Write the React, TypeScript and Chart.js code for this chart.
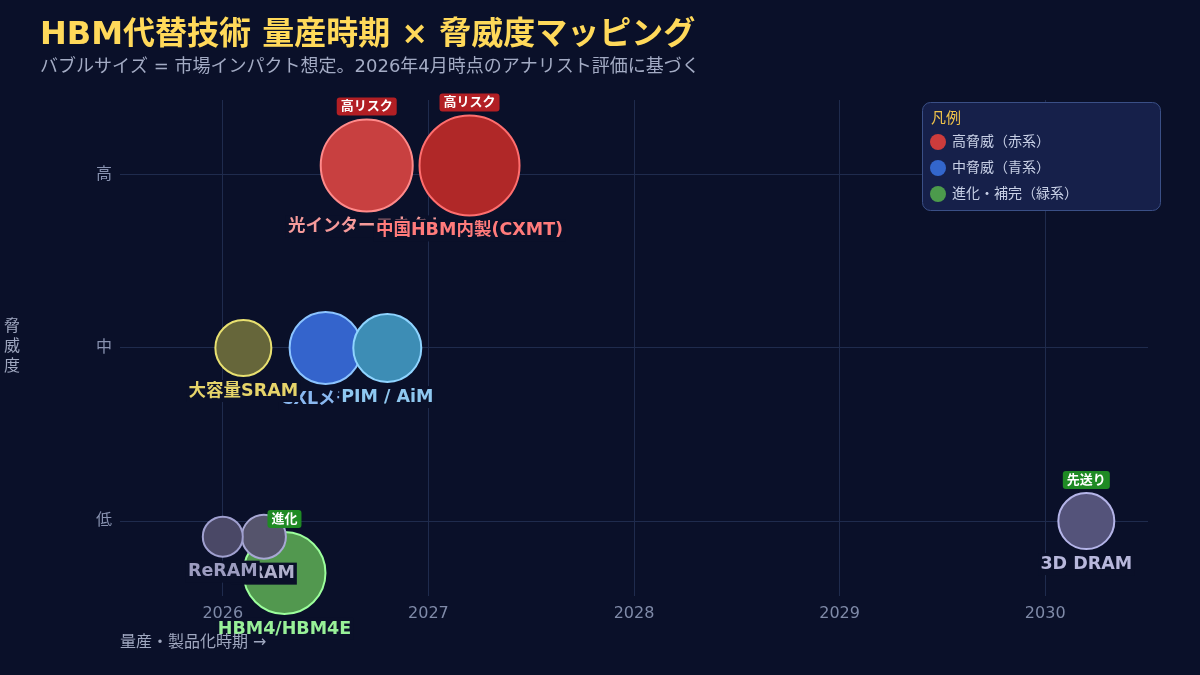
import React, { useEffect, useRef } from 'react';
import { Chart, registerables } from 'chart.js';

Chart.register(...registerables);

// ---- data ----
const techNames = ['光インターコネクト', '中国HBM内製(CXMT)', 'CXLメモリ', 'PIM / AiM', '大容量SRAM', 'HBM4/HBM4E', 'MRAM', 'ReRAM', '3D DRAM'];
const massProductionYear = [2026.7, 2027.2, 2026.5, 2026.8, 2026.1, 2026.3, 2026.2, 2026.0, 2030.2];
const threatLevel = [3.055, 3.055, 2.0, 2.0, 2.0, 0.7, 0.91, 0.91, 1.0];
const marketImpact = [46, 50, 36, 34, 28, 41, 22, 20, 28];
const badgeTexts = ['高リスク', '高リスク', '', '', '', '進化', '', '', '先送り'];
const threatTickLabels = ['低', '中', '高'];
const threatTickValues = [1, 2, 3];
const yearTicks = [2026, 2027, 2028, 2029, 2030];
const legendLabels = ['高脅威（赤系）', '中脅威（青系）', '進化・補完（緑系）'];

// ---- styles ----
const BG = '#0a1029';
const FONT = '"DejaVu Sans", "Noto Sans CJK JP", sans-serif';
const fillColors = ['#c84040', '#b02828', '#3464cc', '#3d8db5', '#66663a', '#52984f', '#55546c', '#4a4866', '#54537a'];
const borderColors = ['#ff8a8a', '#ff6e6e', '#8cc4ff', '#8fd4ff', '#e8e070', '#9cff9c', '#a8a8d4', '#a0a0d0', '#b4b4e8'];
const labelColors = ['#f59a9a', '#ff7b7b', '#8ab8f0', '#8fc8f0', '#e6d46a', '#98f098', '#b0b0cc', '#9c9cc0', '#b8b8dc'];
const badgeColors = ['#b21f24', '#b21f24', '', '', '', '#1f8a24', '', '', '#1f8a24'];
const legendColors = ['#cc3c3c', '#3366cc', '#4c9a4c'];
const gridColor = '#1f2b4d';

const overlayPlugin = {
  id: 'overlay',
  beforeDraw(chart: any) {
    const ctx = chart.ctx;
    ctx.save();
    ctx.fillStyle = BG;
    ctx.fillRect(0, 0, chart.width, chart.height);
    ctx.restore();
  },
  afterDraw(chart: any) {
    const ctx = chart.ctx;
    ctx.save();
    // Title
    ctx.textBaseline = 'middle';
    ctx.textAlign = 'left';
    ctx.fillStyle = '#ffd95a';
    ctx.font = `bold 32px ${FONT}`;
    ctx.fillText('HBM代替技術 量産時期 × 脅威度マッピング', 40, 36);
    ctx.fillStyle = '#a3abc4';
    ctx.font = `18px ${FONT}`;
    ctx.fillText('バブルサイズ = 市場インパクト想定。2026年4月時点のアナリスト評価に基づく', 40, 67);

    // bubble labels
    const meta = chart.getDatasetMeta(0);
    meta.data.forEach((el: any, i: number) => {
      const r = el.options.radius;
      const cx = el.x;
      const ly = el.y + r + 15;
      ctx.font = `bold 17.5px ${FONT}`;
      const w = ctx.measureText(techNames[i]).width;
      ctx.fillStyle = BG;
      ctx.fillRect(cx - w / 2 - 2, ly - 11, w + 4, 22);
      ctx.fillStyle = labelColors[i];
      ctx.textAlign = 'center';
      ctx.fillText(techNames[i], cx, ly);
    });
    // badges
    meta.data.forEach((el: any, i: number) => {
      if (!badgeTexts[i]) return;
      const r = el.options.radius;
      const cx = el.x;
      const by = el.y - r - 13;
      ctx.font = `bold 13px ${FONT}`;
      const w = ctx.measureText(badgeTexts[i]).width + 8;
      ctx.fillStyle = badgeColors[i];
      ctx.beginPath();
      ctx.roundRect(cx - w / 2, by - 9, w, 18, 3);
      ctx.fill();
      ctx.fillStyle = '#ffffff';
      ctx.textAlign = 'center';
      ctx.fillText(badgeTexts[i], cx, by + 0.5);
    });

    // axis titles
    ctx.fillStyle = '#a0a8c0';
    ctx.font = `16px ${FONT}`;
    ctx.textAlign = 'left';
    ctx.fillText('量産・製品化時期 →', 120, 643);
    ctx.textAlign = 'center';
    ['脅', '威', '度'].forEach((c, i) => ctx.fillText(c, 12, 327 + i * 20));

    // legend
    ctx.beginPath();
    ctx.roundRect(922.5, 102.5, 238, 108, 8);
    ctx.fillStyle = '#16204a';
    ctx.fill();
    ctx.strokeStyle = '#3a4f86';
    ctx.lineWidth = 1;
    ctx.stroke();
    ctx.textAlign = 'left';
    ctx.fillStyle = '#f0c34a';
    ctx.font = `15px ${FONT}`;
    ctx.fillText('凡例', 931, 119);
    ctx.font = `14px ${FONT}`;
    legendLabels.forEach((t, i) => {
      const y = 142 + i * 26;
      ctx.beginPath();
      ctx.arc(938, y, 8, 0, Math.PI * 2);
      ctx.fillStyle = legendColors[i];
      ctx.fill();
      ctx.fillStyle = '#c8d0e6';
      ctx.fillText(t, 952, y);
    });
    ctx.restore();
  },
};

export default function App() {
  const ref = useRef<HTMLCanvasElement>(null);
  useEffect(() => {
    document.body.style.margin = '0';
    document.body.style.background = BG;
    Chart.defaults.font.family = FONT;
    const chart = new Chart(ref.current as HTMLCanvasElement, {
      type: 'bubble',
      data: {
        datasets: [
          {
            data: techNames.map((_, i) => ({ x: massProductionYear[i], y: threatLevel[i], r: marketImpact[i] })),
            backgroundColor: fillColors,
            borderColor: borderColors,
            borderWidth: 2,
            hoverRadius: 0,
            clip: false as any,
          },
        ],
      },
      options: {
        responsive: false,
        animation: false,
        events: [],
        layout: { padding: { top: 100, right: 50, left: 0, bottom: 0 } },
        plugins: { legend: { display: false }, tooltip: { enabled: false }, title: { display: false } },
        scales: {
          x: {
            type: 'linear',
            min: 2025.5,
            max: 2030.5,
            afterBuildTicks: (s: any) => {
              s.ticks = yearTicks.map((v) => ({ value: v }));
            },
            afterFit: (s: any) => {
              s.height = 79;
            },
            grid: { color: gridColor, drawTicks: false },
            border: { display: false },
            ticks: { color: '#7f8aa8', font: { size: 16 }, padding: 8, callback: (v: any) => String(v) },
          },
          y: {
            type: 'linear',
            min: 0.567,
            max: 3.433,
            afterBuildTicks: (s: any) => {
              s.ticks = threatTickValues.map((v) => ({ value: v }));
            },
            afterFit: (s: any) => {
              s.width = 120;
            },
            grid: { color: gridColor, drawTicks: false },
            border: { display: false },
            ticks: {
              color: '#8892b0',
              font: { size: 16 },
              padding: 8,
              callback: (v: any) => threatTickLabels[threatTickValues.indexOf(Number(v))] ?? '',
            },
          },
        },
      },
      plugins: [overlayPlugin],
    } as any);
    return () => chart.destroy();
  }, []);
  return (
    <div style={{ width: 1200, height: 675, position: 'relative', background: BG }}>
      <canvas ref={ref} width={1200} height={675} style={{ display: 'block', width: 1200, height: 675 }} />
    </div>
  );
}
